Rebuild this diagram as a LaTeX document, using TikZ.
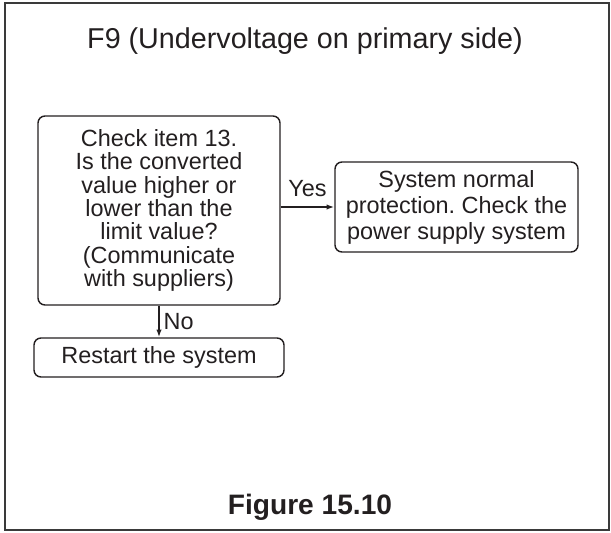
\documentclass[tikz,border=0pt]{standalone}
\usepackage{fontspec}
\setmainfont{Liberation Sans}
\usepackage{tikz}
\usetikzlibrary{arrows.meta}
\definecolor{GrisMarco}{RGB}{58,58,58}
\definecolor{NegroTexto}{RGB}{35,31,32}
\frenchspacing

\begin{document}
\begin{tikzpicture}[>={Latex[length=6.5pt,width=4.5pt]},x=0.03cm,y=-0.03cm,
  caja/.style={draw=NegroTexto,line width=1.2pt,rounded corners=6pt,align=center,
    text=NegroTexto,font=\fontsize{20}{20}\selectfont,inner sep=0pt},
  flecha/.style={->,draw=NegroTexto,line width=1.2pt},
  rotulo/.style={text=NegroTexto,font=\fontsize{20}{20}\selectfont}]
  \useasboundingbox (0,0) rectangle (611,533);
  \draw[line width=2.4pt,GrisMarco] (5,3) rectangle (609,530);
  \node[anchor=base,text=NegroTexto,font=\fontsize{24.5}{26}\selectfont] (titulo) at (305,48)
    {F9 (Undervoltage on primary side)};
  % cajas
  \node[caja,minimum width=7.26cm,minimum height=5.67cm] (pregunta) at (159,210.5)
    {Check item 13.\\Is the converted\\value higher or\\lower than the\\limit value?\\(Communicate\\with suppliers)};
  \node[caja,minimum width=7.29cm,minimum height=2.7cm,font=\fontsize{20}{22.2}\selectfont] (sistema) at (456.5,207)
    {System normal\\protection. Check the\\power supply system};
  \node[caja,minimum width=7.5cm,minimum height=1.17cm] (reinicio) at (159,357.5)
    {Restart the system};
  % flechas
  \draw[flecha] (pregunta.east |- sistema.west) -- (sistema.west)
    node[rotulo,midway,above=5pt] {Yes};
  \draw[flecha] (pregunta.south) -- (reinicio.north)
    node[rotulo,midway,right] {No};
  \node[anchor=base,text=NegroTexto,font=\fontsize{24}{26}\selectfont\bfseries] (figura) at (310,514)
    {Figure 15.10};
\end{tikzpicture}
\end{document}
